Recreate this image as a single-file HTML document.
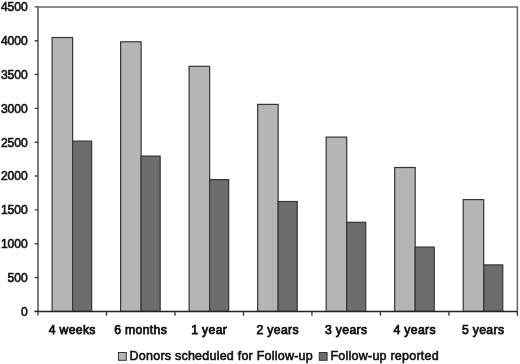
<!DOCTYPE html>
<html><head><meta charset="utf-8"><style>
html,body{margin:0;padding:0;background:#fff;}
body{width:520px;height:364px;overflow:hidden;}
svg{display:block;will-change:transform;}
text{font-family:"Liberation Sans",sans-serif;font-weight:normal;fill:#111;stroke:#111;stroke-width:0.6px;}
.y{font-size:12.1px;letter-spacing:0px;font-weight:normal;stroke-width:0.6px;}
.c{font-size:12.2px;letter-spacing:0.35px;font-weight:normal;stroke-width:0.75px;}
.l{font-size:12.5px;letter-spacing:0.23px;font-weight:normal;stroke-width:0.6px;}
</style></head><body>
<svg width="520" height="364" viewBox="0 0 520 364">
<rect x="52.1" y="37.5" width="20.5" height="273.9" fill="#b5b5b5" stroke="#353535" stroke-width="1.2"/>
<rect x="72.6" y="141.1" width="19.05" height="170.3" fill="#6d6d6d" stroke="#353535" stroke-width="1.2"/>
<rect x="120.62" y="41.8" width="20.5" height="269.6" fill="#b5b5b5" stroke="#353535" stroke-width="1.2"/>
<rect x="141.12" y="156.1" width="19.05" height="155.3" fill="#6d6d6d" stroke="#353535" stroke-width="1.2"/>
<rect x="189.14" y="66.3" width="20.5" height="245.1" fill="#b5b5b5" stroke="#353535" stroke-width="1.2"/>
<rect x="209.64" y="179.6" width="19.05" height="131.8" fill="#6d6d6d" stroke="#353535" stroke-width="1.2"/>
<rect x="257.66" y="104.4" width="20.5" height="207" fill="#b5b5b5" stroke="#353535" stroke-width="1.2"/>
<rect x="278.16" y="201.5" width="19.05" height="109.9" fill="#6d6d6d" stroke="#353535" stroke-width="1.2"/>
<rect x="326.18" y="137.1" width="20.5" height="174.3" fill="#b5b5b5" stroke="#353535" stroke-width="1.2"/>
<rect x="346.68" y="222.3" width="19.05" height="89.1" fill="#6d6d6d" stroke="#353535" stroke-width="1.2"/>
<rect x="394.7" y="167.5" width="20.5" height="143.9" fill="#b5b5b5" stroke="#353535" stroke-width="1.2"/>
<rect x="415.2" y="247.1" width="19.05" height="64.3" fill="#6d6d6d" stroke="#353535" stroke-width="1.2"/>
<rect x="463.22" y="199.6" width="20.5" height="111.8" fill="#b5b5b5" stroke="#353535" stroke-width="1.2"/>
<rect x="483.72" y="264.9" width="19.05" height="46.5" fill="#6d6d6d" stroke="#353535" stroke-width="1.2"/>
<path d="M38 6.9H517.4V311.4" fill="none" stroke="#6a6a6a" stroke-width="1.5"/>
<path d="M38 6V315.6" fill="none" stroke="#777" stroke-width="1.9"/>
<path d="M34.6 311.4H38M34.6 277.57H38M34.6 243.73H38M34.6 209.9H38M34.6 176.07H38M34.6 142.23H38M34.6 108.4H38M34.6 74.57H38M34.6 40.73H38M34.6 6.9H38" stroke="#444" stroke-width="1.4"/>
<path d="M34.6 311.4H517.4" stroke="#222" stroke-width="1.5"/>
<path d="M106.49 311.4V315.8M174.97 311.4V315.8M243.46 311.4V315.8M311.94 311.4V315.8M380.43 311.4V315.8M448.91 311.4V315.8M517.4 311.4V315.8" stroke="#333" stroke-width="1.3"/>
<text class="y" x="27.8" y="315.7" text-anchor="end">0</text>
<text class="y" x="27.8" y="281.87" text-anchor="end">500</text>
<text class="y" x="27.8" y="248.03" text-anchor="end">1000</text>
<text class="y" x="27.8" y="214.2" text-anchor="end">1500</text>
<text class="y" x="27.8" y="180.37" text-anchor="end">2000</text>
<text class="y" x="27.8" y="146.53" text-anchor="end">2500</text>
<text class="y" x="27.8" y="112.7" text-anchor="end">3000</text>
<text class="y" x="27.8" y="78.87" text-anchor="end">3500</text>
<text class="y" x="27.8" y="45.03" text-anchor="end">4000</text>
<text class="y" x="27.8" y="11.2" text-anchor="end">4500</text>
<text class="c" x="72.24" y="333.6" text-anchor="middle">4 weeks</text>
<text class="c" x="140.73" y="333.6" text-anchor="middle">6 months</text>
<text class="c" x="209.21" y="333.6" text-anchor="middle">1 year</text>
<text class="c" x="277.7" y="333.6" text-anchor="middle">2 years</text>
<text class="c" x="346.19" y="333.6" text-anchor="middle">3 years</text>
<text class="c" x="414.67" y="333.6" text-anchor="middle">4 years</text>
<text class="c" x="483.16" y="333.6" text-anchor="middle">5 years</text>
<rect x="118.5" y="352.5" width="7.8" height="7.8" fill="#b5b5b5" stroke="#333" stroke-width="1"/>
<text class="l" x="129.6" y="359.8">Donors scheduled for Follow-up</text>
<rect x="319.3" y="352.5" width="7.8" height="7.8" fill="#6d6d6d" stroke="#333" stroke-width="1"/>
<text class="l" x="330.5" y="359.7">Follow-up reported</text>
</svg>
</body></html>
